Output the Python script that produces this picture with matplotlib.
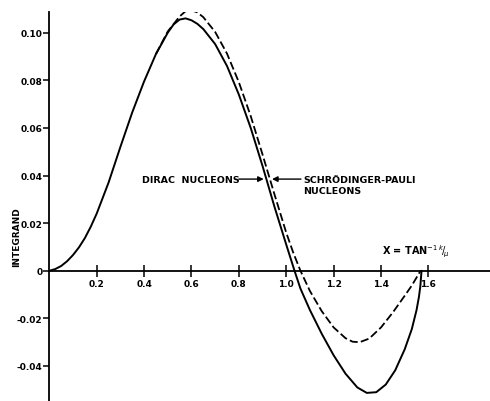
import matplotlib
matplotlib.use("Agg")
import matplotlib.pyplot as plt

# Dirac nucleons (solid curve)
dirac_x = [0.0, 0.025, 0.05, 0.075, 0.10, 0.125, 0.15, 0.175, 0.20, 0.25, 0.30, 0.35,
           0.40, 0.45, 0.50, 0.525, 0.55, 0.575, 0.60, 0.625, 0.65, 0.70, 0.75, 0.80,
           0.85, 0.90, 0.95, 1.00, 1.035, 1.06, 1.10, 1.15, 1.20, 1.25, 1.30, 1.34,
           1.38, 1.42, 1.46, 1.50, 1.53, 1.55, 1.56, 1.566, 1.571]
dirac_y = [0.0, 0.0007, 0.0020, 0.0040, 0.0066, 0.0098, 0.0137, 0.0185, 0.0240, 0.0370,
           0.0520, 0.0665, 0.0795, 0.0910, 0.1000, 0.1035, 0.1055, 0.1060, 0.1052,
           0.1037, 0.1015, 0.0952, 0.0860, 0.0740, 0.0600, 0.0440, 0.0270, 0.0110,
           0.0, -0.0075, -0.0165, -0.0265, -0.0355, -0.0432, -0.0490, -0.0513, -0.0510,
           -0.0478, -0.0418, -0.0330, -0.0245, -0.0165, -0.0110, -0.0065, 0.0]

# Schroedinger-Pauli nucleons (dashed curve)
sp_x = [0.45, 0.50, 0.55, 0.575, 0.60, 0.625, 0.65, 0.70, 0.75, 0.80, 0.85, 0.90, 0.95,
        1.00, 1.03, 1.06, 1.10, 1.15, 1.20, 1.25, 1.28, 1.31, 1.35, 1.40, 1.45, 1.50,
        1.53, 1.567]
sp_y = [0.0910, 0.1005, 0.1068, 0.1090, 0.1094, 0.1085, 0.1065, 0.1003, 0.0912, 0.0792,
        0.0650, 0.0488, 0.0322, 0.0160, 0.0075, 0.0, -0.0085, -0.0170, -0.0238, -0.0283,
        -0.0298, -0.0300, -0.0285, -0.0238, -0.0175, -0.0105, -0.0062, 0.0]

x_ticks = [0.2, 0.4, 0.6, 0.8, 1.0, 1.2, 1.4, 1.6]
x_tick_labels = ["0.2", "0.4", "0.6", "0.8", "1.0", "1.2", "1.4", "1.6"]
y_ticks = [-0.04, -0.02, 0.0, 0.02, 0.04, 0.06, 0.08, 0.10]
y_tick_labels = ["-0.04", "-0.02", "0", "0.02", "0.04", "0.06", "0.08", "0.10"]

fig = plt.figure(figsize=(4.9, 4.02), dpi=100)
ax = fig.add_axes([49.3 / 490, 0.0, (490 - 49.3) / 490, (402 - 12.7) / 402])
ax.set_xlim(0, 1.86)
ax.set_ylim(-0.0547, 0.1088)

ax.plot(dirac_x, dirac_y, color="black", lw=1.4, solid_joinstyle="round",
        solid_capstyle="round")
ax.plot(sp_x, sp_y, color="black", lw=1.3, dashes=(4.5, 1.8),
        dash_joinstyle="round")

for s in ["top", "right"]:
    ax.spines[s].set_visible(False)
ax.spines["bottom"].set_position(("data", 0))
ax.spines["bottom"].set_linewidth(1.3)
ax.spines["left"].set_linewidth(1.3)

ax.set_xticks(x_ticks)
ax.set_xticklabels(x_tick_labels, fontsize=6.5, fontweight="bold")
ax.set_yticks(y_ticks)
ax.set_yticklabels(y_tick_labels, fontsize=6.5, fontweight="bold")
ax.tick_params(axis="x", direction="inout", length=8, width=1.1, pad=2)
ax.tick_params(axis="y", direction="out", length=4, width=1.1, pad=1)

# labels
ax.text(-0.137, 0.0145, "INTEGRAND", rotation=90, ha="center", va="center",
        fontsize=6.5, fontweight="bold", clip_on=False)
ax.text(1.403, 0.0048, r"X = TAN$^{-1\;k}\!/_{\!\mu}$", ha="left", va="bottom",
        fontsize=7, fontweight="bold")

# annotations
yy = 0.0385
ax.text(0.805, yy, "DIRAC  NUCLEONS", ha="right", va="center", fontsize=6.8,
        fontweight="bold")
ax.annotate("", xy=(0.905, yy), xytext=(0.800, yy),
            arrowprops=dict(arrowstyle="-|>", color="black", lw=1.0,
                            mutation_scale=8, shrinkA=0, shrinkB=0))
ax.text(1.072, yy, "SCHRÖDINGER-PAULI", ha="left", va="center", fontsize=6.8,
        fontweight="bold")
ax.text(1.072, 0.0336, "NUCLEONS", ha="left", va="center", fontsize=6.8,
        fontweight="bold")
ax.annotate("", xy=(0.940, yy), xytext=(1.062, yy),
            arrowprops=dict(arrowstyle="-|>", color="black", lw=1.0,
                            mutation_scale=8, shrinkA=0, shrinkB=0))

fig.savefig("out.png", dpi=100)
